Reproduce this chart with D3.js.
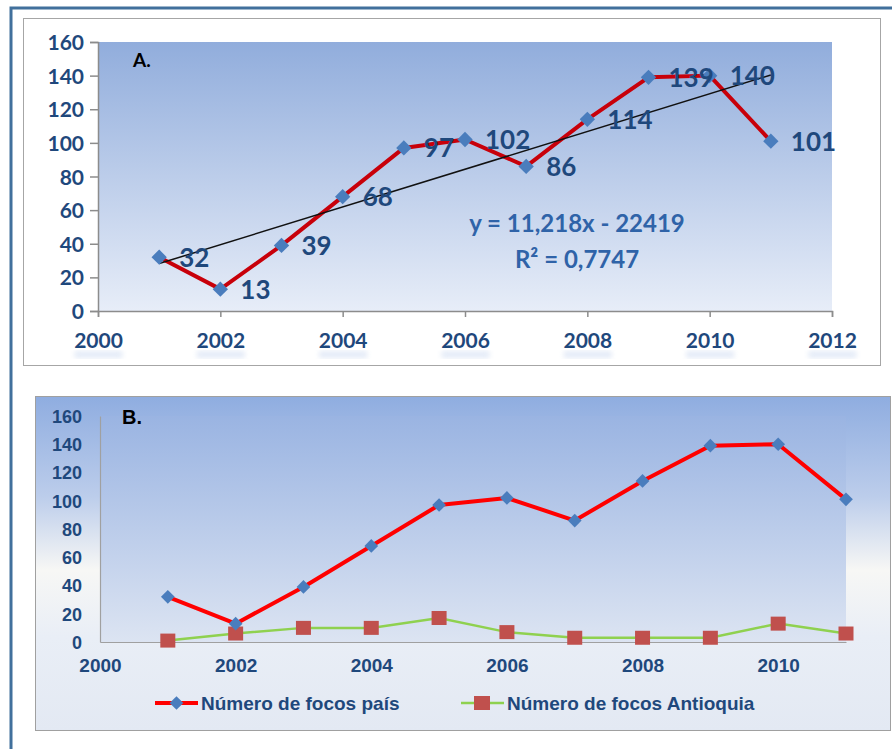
<!DOCTYPE html>
<html>
<head>
<meta charset="utf-8">
<script src="https://cdn.jsdelivr.net/npm/d3@7"></script>
<style>
  body { margin: 0; background: #fff; }
  svg { display: block; }
</style>
</head>
<body>
<svg id="chart" width="892" height="749"></svg>
<script>
// data
const years = [2001, 2002, 2003, 2004, 2005, 2006, 2007, 2008, 2009, 2010, 2011];
const focosPais = [32, 13, 39, 68, 97, 102, 86, 114, 139, 140, 101];
const focosAntioquia = [1, 6, 10, 10, 17, 7, 3, 3, 3, 13, 6];
const trendCoef = [11.218, -22419]; // y = a*x + b
const trendText = ["y = 11,218x - 22419", "R² = 0,7747"];
const yTicks = [0, 20, 40, 60, 80, 100, 120, 140, 160];
const xTicksA = [2000, 2002, 2004, 2006, 2008, 2010, 2012];
const xTicksB = [2000, 2002, 2004, 2006, 2008, 2010];
const legendNames = ["Número de focos país", "Número de focos Antioquia"];

const svg = d3.select("#chart");
const defs = svg.append("defs");

function grad(id, stops) {
  const g = defs.append("linearGradient").attr("id", id)
    .attr("x1", 0).attr("y1", 0).attr("x2", 0).attr("y2", 1);
  stops.forEach(s => g.append("stop").attr("offset", s[0]).attr("stop-color", s[1]));
}
grad("gA", [[0, "#91addc"], [1, "#e7edf8"]]);
grad("gBchart", [[0, "#8fade0"], [0.3, "#bccdeb"], [0.52, "#f7f7f5"], [0.72, "#e9eef6"], [1, "#e3e9f3"]]);
grad("gBplot", [[0, "#9ab4e2"], [1, "#dce4f2"]]);
defs.append("filter").attr("id", "blur").append("feGaussianBlur").attr("stdDeviation", 2.5);

// outer blue frame
svg.append("path")
  .attr("d", "M11,749 V8 H892")
  .attr("fill", "none").attr("stroke", "#41709c").attr("stroke-width", 3);

const navy = "#1f487c";
const diamond = d3.symbol().type(d3.symbolDiamond2);
const fontA = "Lato, 'Open Sans', sans-serif";
const fontB = "'Liberation Sans', Arial, sans-serif";

// ---------------- chart A ----------------
const gA = svg.append("g");
gA.append("rect").attr("x", 23.5).attr("y", 18.5).attr("width", 857).attr("height", 347)
  .attr("fill", "#fff").attr("stroke", "#a6a6a6");

const xA = d3.scaleLinear().domain([2000, 2012]).range([98, 832]);
const yA = d3.scaleLinear().domain([0, 160]).range([311, 42]);

gA.append("rect").attr("x", xA(2000)).attr("y", yA(160))
  .attr("width", xA(2012) - xA(2000)).attr("height", yA(0) - yA(160))
  .attr("fill", "url(#gA)");

// axes
const axYA = gA.append("g").attr("transform", `translate(${xA(2000)},0)`)
  .call(d3.axisLeft(yA).tickValues(yTicks).tickSize(8).tickPadding(6));
const axXA = gA.append("g").attr("transform", `translate(0,${yA(0)})`)
  .call(d3.axisBottom(xA).tickValues(xTicksA).tickFormat(d3.format("d")).tickSize(6).tickPadding(16));
// faint glow under x labels (reflection)
axXA.selectAll(".tick").insert("rect", "text")
  .attr("x", -24).attr("y", 40).attr("width", 48).attr("height", 7)
  .attr("fill", "#c3d3ee").attr("opacity", 0.45).attr("filter", "url(#blur)");
[axYA, axXA].forEach(ax => {
  ax.select(".domain").attr("stroke", "#8c8c8c").attr("stroke-width", 1.5);
  ax.selectAll(".tick line").attr("stroke", "#8c8c8c").attr("stroke-width", 1.5);
  ax.selectAll("text").attr("fill", navy).attr("font-family", fontA)
    .attr("font-weight", "bold").attr("font-size", 21);
});
axYA.selectAll("text").attr("dy", "0.36em");

gA.append("text").attr("x", 133).attr("y", 67).text("A.")
  .attr("font-family", fontA).attr("font-weight", "bold").attr("font-size", 19).attr("fill", "#000");

const ptsA = years.map((yr, i) => ({ x: yr, y: focosPais[i] }));
const line = (sx, sy) => d3.line().x(d => sx(d.x)).y(d => sy(d.y));

gA.append("path").datum(ptsA).attr("d", line(xA, yA))
  .attr("fill", "none").attr("stroke", "#c8000a").attr("stroke-width", 4).attr("stroke-linejoin", "round");

// trend line
const trend = [years[0], years[years.length - 1]].map(x => ({ x, y: trendCoef[0] * x + trendCoef[1] }));
gA.append("path").datum(trend).attr("d", line(xA, yA))
  .attr("fill", "none").attr("stroke", "#111").attr("stroke-width", 1.5);

gA.selectAll(".mA").data(ptsA).join("path")
  .attr("transform", d => `translate(${xA(d.x)},${yA(d.y)})`)
  .attr("d", diamond.size(150)).attr("fill", "#4a7dbd");

gA.selectAll(".lblA").data(ptsA).join("text")
  .attr("x", d => xA(d.x) + 20).attr("y", d => yA(d.y)).attr("dy", "0.36em")
  .attr("font-family", fontA).attr("font-weight", "bold").attr("font-size", 26)
  .attr("fill", navy).text(d => d.y);

gA.selectAll(".eq").data(trendText).join("text")
  .attr("x", 577).attr("y", (d, i) => 232 + i * 36).attr("text-anchor", "middle")
  .attr("font-family", fontA).attr("font-weight", "bold").attr("font-size", 24)
  .attr("fill", "#2f63a8").text(d => d);

// ---------------- chart B ----------------
const gB = svg.append("g");
gB.append("rect").attr("x", 35.5).attr("y", 396.5).attr("width", 855).attr("height", 334)
  .attr("fill", "url(#gBchart)").attr("stroke", "#a0a0a0");

const xB = d3.scaleLinear().domain([2000, 2011]).range([100, 846]);
const yB = d3.scaleLinear().domain([0, 160]).range([642, 416]);

gB.append("rect").attr("x", xB(2000)).attr("y", yB(160))
  .attr("width", xB(2011) - xB(2000)).attr("height", yB(0) - yB(160))
  .attr("fill", "url(#gBplot)");

const axYB = gB.append("g").attr("transform", `translate(${xB(2000)},0)`)
  .call(d3.axisLeft(yB).tickValues(yTicks).tickSize(0).tickPadding(18));
const axXB = gB.append("g").attr("transform", `translate(0,${yB(0)})`)
  .call(d3.axisBottom(xB).tickValues(xTicksB).tickFormat(d3.format("d")).tickSize(0).tickPadding(17));
[axYB, axXB].forEach(ax => {
  ax.select(".domain").attr("stroke", "#a0a0a0").attr("stroke-width", 1.2);
  ax.selectAll("text").attr("fill", navy).attr("font-family", fontB)
    .attr("font-weight", "bold").attr("font-size", 18);
});
axXB.selectAll("text").attr("font-size", 19);
axYB.selectAll("text").attr("dy", "0.36em");

gB.append("text").attr("x", 122).attr("y", 424).text("B.")
  .attr("font-family", fontB).attr("font-weight", "bold").attr("font-size", 20).attr("fill", "#000");

const ptsB1 = years.map((yr, i) => ({ x: yr, y: focosPais[i] }));
const ptsB2 = years.map((yr, i) => ({ x: yr, y: focosAntioquia[i] }));

gB.append("path").datum(ptsB2).attr("d", line(xB, yB))
  .attr("fill", "none").attr("stroke", "#8fd14f").attr("stroke-width", 2.5);
gB.selectAll(".mB2").data(ptsB2).join("rect")
  .attr("x", d => xB(d.x) - 7.5).attr("y", d => yB(d.y) - 7).attr("width", 15).attr("height", 14)
  .attr("fill", "#c0504d");

gB.append("path").datum(ptsB1).attr("d", line(xB, yB))
  .attr("fill", "none").attr("stroke", "#ff0000").attr("stroke-width", 4).attr("stroke-linejoin", "round");
gB.selectAll(".mB1").data(ptsB1).join("path")
  .attr("transform", d => `translate(${xB(d.x)},${yB(d.y)})`)
  .attr("d", diamond.size(120)).attr("fill", "#4a7dbd");

// legend
const leg = [
  { x: 155, name: legendNames[0], stroke: "#ff0000", w: 4, mark: "diamond" },
  { x: 461, name: legendNames[1], stroke: "#8fd14f", w: 2.5, mark: "square" }
];
const lg = gB.selectAll(".leg").data(leg).join("g").attr("transform", d => `translate(${d.x},703)`);
lg.append("line").attr("x1", 0).attr("x2", 43).attr("stroke", d => d.stroke).attr("stroke-width", d => d.w);
lg.filter(d => d.mark === "diamond").append("path")
  .attr("transform", "translate(21.5,0)").attr("d", diamond.size(120)).attr("fill", "#4a7dbd");
lg.filter(d => d.mark === "square").append("rect")
  .attr("x", 13).attr("y", -7).attr("width", 16).attr("height", 14).attr("fill", "#c0504d");
lg.append("text").attr("x", 46).attr("dy", "0.36em")
  .attr("font-family", fontB).attr("font-weight", "bold").attr("font-size", 19)
  .attr("fill", navy).text(d => d.name);
</script>
</body>
</html>
